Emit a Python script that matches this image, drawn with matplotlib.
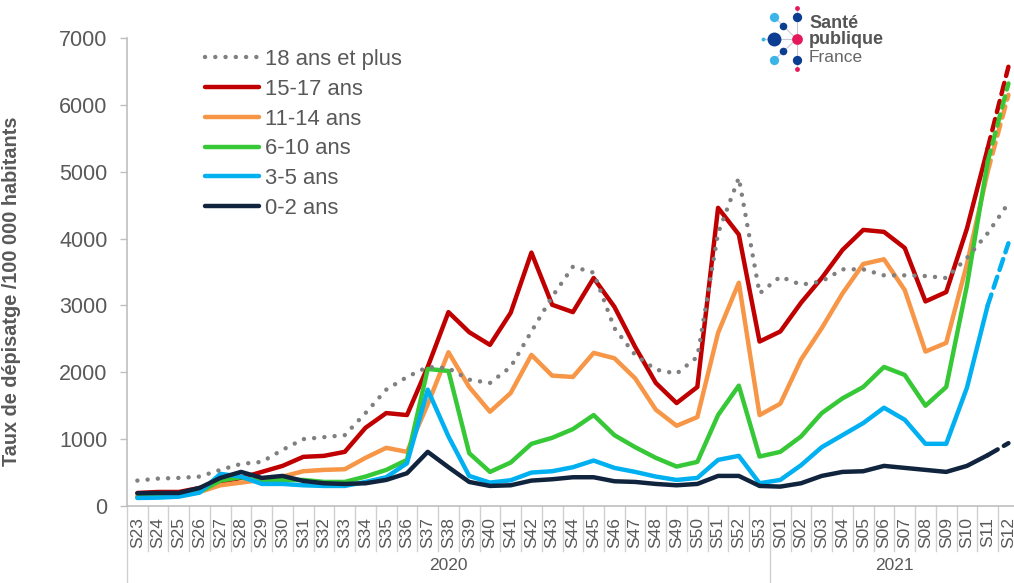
import matplotlib
matplotlib.use("Agg")
import matplotlib.pyplot as plt
import matplotlib.transforms as mtransforms
import numpy as np

plt.rcParams['font.family'] = ['Liberation Sans', 'DejaVu Sans']

# === Data ===
weeks_2020 = ['S%02d' % w for w in range(23, 54)]
weeks_2021 = ['S%02d' % w for w in range(1, 13)]
weeks = weeks_2020 + weeks_2021
years = ['2020', '2021']

plus18 = [380, 410, 420, 440, 540, 630, 660, 840, 1000, 1030,
          1060, 1390, 1740, 1930, 2080, 2060, 1890, 1840, 2080, 2610,
          3130, 3580, 3490, 2660, 2260, 2040, 1980, 2230, 4080, 4910,
          3180,
          3430, 3310, 3360, 3540, 3540, 3450, 3450, 3440, 3410, 3710, 4080, 4530]
age_15_17 = [195, 210, 210, 270, 360, 420, 510, 600, 735, 750,
             810, 1170, 1390, 1360, 2080, 2900, 2600, 2410, 2890, 3790,
             3010, 2900, 3410, 2980, 2380, 1840, 1540, 1780, 4460, 4060,
             2460,
             2610, 3040, 3410, 3830, 4130, 4100, 3860, 3060, 3200, 4150, 5350, 6570]
age_11_14 = [150, 160, 170, 210, 310, 350, 390, 440, 520, 540,
             550, 720, 870, 810, 1520, 2300, 1780, 1410, 1690, 2260,
             1950, 1930, 2290, 2210, 1910, 1440, 1200, 1330, 2590, 3340,
             1360,
             1530, 2190, 2660, 3180, 3620, 3690, 3230, 2310, 2440, 3620, 5000, 6150]
age_6_10 = [130, 140, 150, 210, 380, 430, 360, 390, 390, 360,
            360, 440, 540, 690, 2050, 2020, 790, 510, 650, 930,
            1020, 1150, 1360, 1060, 880, 720, 590, 660, 1360, 1800,
            740,
            810, 1040, 1390, 1610, 1780, 2080, 1960, 1500, 1780, 3300, 5150, 6320]
age_3_5 = [120, 125, 140, 200, 480, 440, 330, 330, 310, 300,
           300, 360, 430, 640, 1740, 1040, 450, 350, 385, 500,
           520, 580, 680, 570, 510, 440, 390, 420, 690, 750,
           340,
           390, 610, 880, 1060, 1240, 1470, 1290, 930, 930, 1770, 3000, 3930]
age_0_2 = [190, 195, 195, 270, 420, 510, 420, 450, 375, 340,
           330, 340, 390, 490, 810, 580, 360, 300, 310, 380,
           400, 430, 430, 370, 360, 330, 310, 330, 450, 450,
           300,
           290, 340, 450, 510, 520, 600, 570, 540, 510, 600, 760, 940]

children = [
    ('15-17 ans', age_15_17, '#C00000'),
    ('11-14 ans', age_11_14, '#F79646'),
    ('6-10 ans', age_6_10, '#36C836'),
    ('3-5 ans', age_3_5, '#00B0F0'),
    ('0-2 ans', age_0_2, '#10243E'),
]

W, H = 1014, 583
TXT = '#595959'
LW = 3.2
AX_H = 506 - 38  # axes height in px

fig = plt.figure(figsize=(W / 100, H / 100), dpi=100)
ax = fig.add_axes([127 / W, (H - 506) / H, (1018.8 - 127) / W, AX_H / H])

x = np.arange(len(weeks))
n_solid = len(weeks) - 1  # last week is provisional -> dashed

handles = []
for label, vals, col in children:
    vals = np.array(vals)
    line, = ax.plot(x[:n_solid], vals[:n_solid], color=col, lw=LW,
                    solid_capstyle='round', solid_joinstyle='round', label=label)
    ax.plot(x[n_solid - 1:], vals[n_solid - 1:], color=col, lw=LW,
            dashes=(2.6, 1.6), dash_capstyle='round')
    handles.append(line)

dotted, = ax.plot(x, plus18, color='#808080', lw=LW, dashes=(0.01, 2.3),
                  dash_capstyle='round', label='18 ans et plus')
handles = [dotted] + handles

# === Axes styling ===
ax.set_xlim(-0.5, len(weeks) - 0.5)
ax.set_ylim(0, 7000)
ax.set_yticks(range(0, 7001, 1000))
ax.tick_params(axis='y', labelsize=15.5, colors='#BFBFBF', labelcolor=TXT,
               length=5, width=1, pad=9)
ax.set_xticks(x)
ax.set_xticklabels(weeks, rotation=90, fontsize=12.5, color=TXT)
ax.tick_params(axis='x', length=0, pad=8)
for s in ['top', 'right']:
    ax.spines[s].set_visible(False)
for s in ['left', 'bottom']:
    ax.spines[s].set_color('#BFBFBF')
    ax.spines[s].set_linewidth(1.2)

ax.set_ylabel('Taux de dépisatge /100 000 habitants', fontsize=14.3,
              fontweight='bold', color=TXT)
ax.yaxis.set_label_coords(-(127 - 21) / (1018.8 - 127), (506 - 291) / AX_H)

# category separators and year groups below the axis
trans = mtransforms.blended_transform_factory(ax.transData, ax.transAxes)
short = -45 / AX_H
long_ = -80 / AX_H
for b in np.arange(-0.5, len(weeks), 1.0):
    ext = long_ if b in (-0.5, len(weeks_2020) - 0.5) else short
    ax.plot([b, b], [0, ext], color='#D0D0D0', lw=1, transform=trans, clip_on=False)

bounds = [(-0.5, len(weeks_2020) - 0.5), (len(weeks_2020) - 0.5, len(weeks) - 0.5)]
for yr, (a, b) in zip(years, bounds):
    ax.text((a + b) / 2, -60 / AX_H, yr, transform=trans, ha='center', va='center',
            fontsize=12.5, color=TXT)

# legend
leg = ax.legend(handles=handles, loc='upper left', bbox_to_anchor=(205 / W, 1 - 49 / H),
                bbox_transform=fig.transFigure, frameon=False, fontsize=15.8,
                handlelength=2.47, handletextpad=0.27, labelspacing=0.4,
                borderpad=0, borderaxespad=0)
for t in leg.get_texts():
    t.set_color(TXT)

# === Logo (Santé publique France) ===
logo = fig.add_axes([0, 0, 1, 1], facecolor='none')
logo.set_xlim(0, W)
logo.set_ylim(H, 0)
logo.axis('off')
cy = 39
logo.plot([763, 797], [cy, cy], color='#C8C8D8', lw=0.8)
logo.plot([796.7, 796.7], [8, 69], color='#C8C8D8', lw=0.8)
logo.plot([774, 796.7], [17, 39], color='#C8C8D8', lw=0.8)
logo.plot([774, 796.7], [60, 39], color='#C8C8D8', lw=0.8)
dots = [(774, 17.3, 45, '#3BB5E8'), (796.7, 8.3, 12, '#E5185B'), (796.7, 17.3, 45, '#0B3D91'),
        (782.7, 26, 30, '#0B3D91'), (763.3, 39, 8, '#3BB5E8'), (774, 39, 100, '#0B3D91'),
        (796.7, 39, 60, '#E5185B'), (782.7, 50.7, 30, '#0B3D91'), (774, 60, 45, '#3BB5E8'),
        (796.7, 60, 45, '#0B3D91'), (796.7, 69, 12, '#E5185B')]
for dx, dy, sz, c in dots:
    logo.scatter(dx, dy, s=sz, color=c, zorder=3, linewidths=0)
logo.text(809, 23, 'Santé', fontsize=13, fontweight='bold', color='#555555', va='center')
logo.text(809, 40, 'publique', fontsize=13, fontweight='bold', color='#555555', va='center')
logo.text(809, 58, 'France', fontsize=12.5, color='#666666', va='center')

fig.savefig('out.png', dpi=100)
